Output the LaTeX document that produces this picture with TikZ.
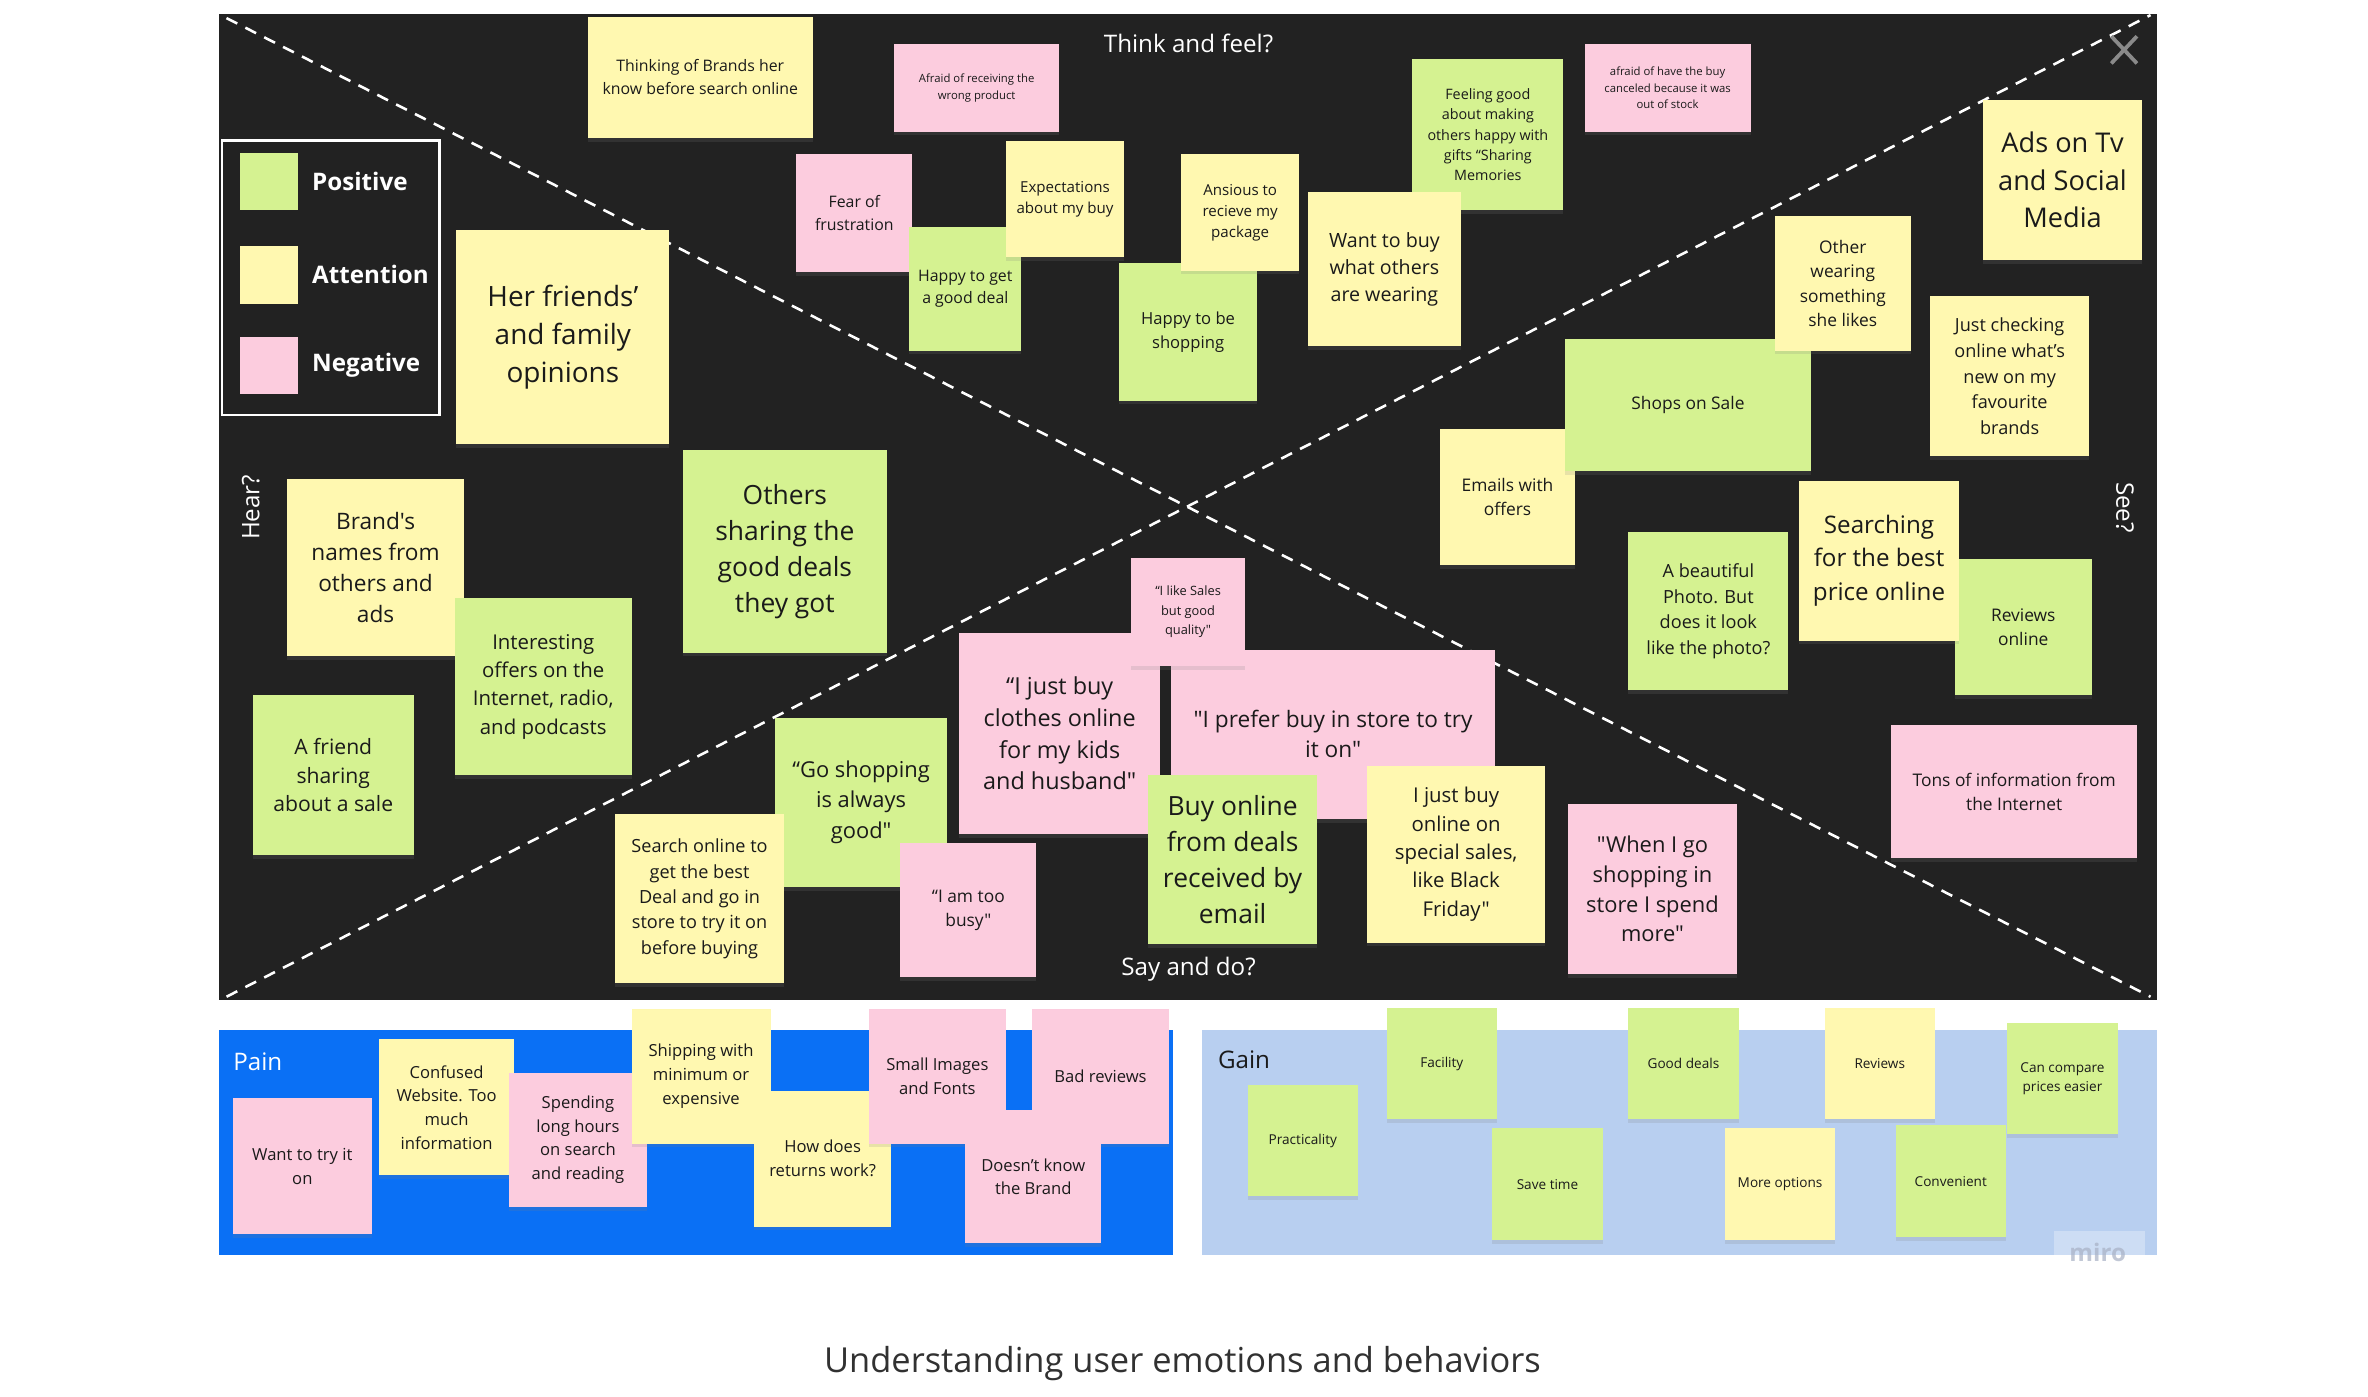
\documentclass[tikz,border=0pt]{standalone}
\usepackage{fontspec}
\defaultfontfeatures[\rmfamily,\sffamily]{}
\setmainfont{Open Sans}
\usepackage{tikz}
\usetikzlibrary{positioning,shadows}
\definecolor{board}{HTML}{222222}
\definecolor{stkgreen}{HTML}{D5F291}
\definecolor{stkyellow}{HTML}{FFF8B0}
\definecolor{stkpink}{HTML}{FCCCDE}
\definecolor{painblue}{HTML}{0A70F5}
\definecolor{gainblue}{HTML}{B8CFF0}
\definecolor{ink}{HTML}{1A1A1A}
\definecolor{xgray}{HTML}{8A8A8A}
\definecolor{mirogray}{HTML}{A7B0C4}
\newcommand{\fs}[2]{\fontsize{#1}{#2}\selectfont}
\tikzset{
  sticky/.style = {rectangle, fill=#1, anchor=north west, inner sep=1pt, align=center, text=ink,
                   drop shadow={shadow xshift=0pt, shadow yshift=-2.5pt, opacity=0.18}},
  sz/.style 2 args = {minimum width=#1, minimum height=#2},
  lbl/.style     = {text=white, font=\fs{16}{20}},
  legtxt/.style  = {text=white, anchor=west, font=\bfseries\fs{16}{20}},
  diag/.style    = {draw=white, line width=1.7pt, dash pattern=on 8pt off 6pt},
}

\begin{document}
\begin{tikzpicture}[x=1pt, y=-1pt]
  \fill[white] (0,0) rectangle (1568,925);
  \useasboundingbox (0,0) rectangle (1568,925);

  %% ---------------- the board: quadrants ----------------------------------------------------
  \fill[board] (145,9) rectangle (1428,662);
  \coordinate (dtl) at (150,12);  \coordinate (dbr) at (1424,660);
  \coordinate (dbl) at (150,660); \coordinate (dtr) at (1424,10);
  \draw[diag] (dtl) -- (dbr);
  \draw[diag] (dbl) -- (dtr);
  \draw[xgray, line width=2.5pt] (1398,24) -- (1415,42) (1415,24) -- (1398,42);

  \node[lbl] (think) at (787,29) {Think and feel?};
  \node[lbl] (say) at (787,642) {Say and do?};
  \node[lbl, rotate=90] (hear) at (166,336) {Hear?};
  \node[lbl, rotate=-90] (see) at (1407,336) {See?};

  %% legend
  \draw[white, line width=1.5pt] (147,93) rectangle (291,275);
  \foreach \n/\c/\t/\y in {pos/stkgreen/Positive/120, att/stkyellow/Attention/182, neg/stkpink/Negative/242} {
    \node[rectangle, fill=\c, sz={38pt}{38pt}, inner sep=0pt] (sq-\n) at (178,\y) {};
    \node[legtxt, right=6pt of sq-\n] (leg-\n) {\t};
  }

  %% ---------------- think and feel -----------------------------------------------------------
  \node[sticky=stkyellow, sz={149pt}{80pt}, font=\fs{10.5}{15}] (brandsknow) at (389,11)
    {Thinking of Brands her\\know before search online};
  \node[sticky=stkpink, sz={109pt}{58pt}, font=\fs{7.5}{11}] (wrongprod) at (592,29)
    {Afraid of receiving the\\wrong product};
  \node[sticky=stkpink, sz={77pt}{78pt}, font=\fs{10.5}{15}] (fear) at (527,102) {Fear of\\frustration};
  \node[sticky=stkgreen, sz={74pt}{82pt}, font=\fs{10.5}{15}] (happydeal) at (602,150) {Happy to get\\a good deal};
  \node[sticky=stkyellow, sz={78pt}{77pt}, font=\fs{10}{14}] (expect) at (666,93) {Expectations\\about my buy};
  \node[sticky=stkgreen, sz={91pt}{91pt}, font=\fs{11}{16}] (happyshop) at (741,174) {Happy to be\\shopping};
  \node[sticky=stkyellow, sz={78pt}{77pt}, font=\fs{10}{14}] (package) at (782,102) {Ansious to\\recieve my\\package};
  \node[sticky=stkgreen, sz={100pt}{100pt}, font=\fs{9.5}{13.5}] (feelgood) at (935,39)
    {Feeling good\\about making\\others happy with\\gifts “Sharing\\Memories};
  \node[sticky=stkyellow, sz={101pt}{102pt}, font=\fs{13}{18}] (wantbuy) at (866,127)
    {Want to buy\\what others\\are wearing};
  \node[sticky=stkpink, sz={110pt}{58pt}, font=\fs{7.5}{11}] (canceled) at (1049,29)
    {afraid of have the buy\\canceled because it was\\out of stock};

  %% ---------------- see ----------------------------------------------------------------------
  \node[sticky=stkyellow, sz={105pt}{106pt}, font=\fs{18}{25}] (adstv) at (1313,66) {Ads on Tv\\and Social\\Media};
  \node[sticky=stkyellow, sz={90pt}{90pt}, font=\fs{11.5}{16}] (emails) at (953,284) {Emails with\\offers};
  \node[sticky=stkgreen, sz={163pt}{88pt}, font=\fs{11.5}{16}] (shopsale) at (1036,224) {Shops on Sale};
  \node[sticky=stkyellow, sz={90pt}{89pt}, font=\fs{11.5}{16}] (otherwear) at (1175,143)
    {Other\\wearing\\something\\she likes};
  \node[sticky=stkyellow, sz={105pt}{106pt}, font=\fs{12}{17}] (checking) at (1278,196)
    {Just checking\\online what’s\\new on my\\favourite\\brands};
  \node[sticky=stkgreen, sz={106pt}{105pt}, font=\fs{12}{17}] (photo) at (1078,352)
    {A beautiful\\Photo. But\\does it look\\like the photo?};
  \node[sticky=stkgreen, sz={91pt}{90pt}, font=\fs{11.5}{16}] (revonline) at (1294,370) {Reviews\\online};
  \node[sticky=stkyellow, sz={106pt}{106pt}, font=\fs{16}{22}] (bestprice) at (1191,318)
    {Searching\\for the best\\price online};
  \node[sticky=stkpink, sz={163pt}{88pt}, font=\fs{11.5}{16}] (tons) at (1252,480)
    {Tons of information from\\the Internet};

  %% ---------------- hear ---------------------------------------------------------------------
  \node[sticky=stkyellow, sz={141pt}{142pt}, font=\fs{18.5}{25}] (friends) at (302,152)
    {Her friends’\\and family\\opinions};
  \node[sticky=stkyellow, sz={117pt}{117pt}, font=\fs{15}{20.5}] (brandnames) at (190,317)
    {Brand's\\names from\\others and\\ads};
  \node[sticky=stkgreen, sz={117pt}{117pt}, font=\fs{13.5}{18.7}] (offers) at (301,396)
    {Interesting\\offers on the\\Internet, radio,\\and podcasts};
  \node[sticky=stkgreen, sz={107pt}{106pt}, font=\fs{14}{19}] (friendsale) at (167,460)
    {A friend\\sharing\\about a sale};
  \node[sticky=stkgreen, sz={135pt}{134pt}, font=\fs{17.5}{23.7}] (sharing) at (452,298)
    {Others\\sharing the\\good deals\\they got};

  %% ---------------- say and do ---------------------------------------------------------------
  \node[sticky=stkpink, sz={133pt}{133pt}, font=\fs{15.5}{21}] (kids) at (635,419)
    {“I just buy\\clothes online\\for my kids\\and husband"};
  \node[sticky=stkpink, sz={215pt}{112pt}, font=\fs{15}{20}] (prefer) at (775,430)
    {"I prefer buy in store to try\\it on"};
  \node[sticky=stkpink, sz={75pt}{72pt}, font=\fs{8.5}{13}] (quality) at (749,369)
    {“I like Sales\\but good\\quality"};
  \node[sticky=stkgreen, sz={112pt}{112pt}, font=\fs{17.5}{23.7}] (email) at (760,513)
    {Buy online\\from deals\\received by\\email};
  \node[sticky=stkyellow, sz={118pt}{117pt}, font=\fs{13.5}{18.75}] (blackfri) at (905,507)
    {I just buy\\online on\\special sales,\\like Black\\Friday"};
  \node[sticky=stkgreen, sz={114pt}{112pt}, font=\fs{14.5}{20}] (goshop) at (513,475)
    {“Go shopping\\is always\\good"};
  \node[sticky=stkyellow, sz={112pt}{112pt}, font=\fs{12}{16.75}] (tryon) at (407,539)
    {Search online to\\get the best\\Deal and go in\\store to try it on\\before buying};
  \node[sticky=stkpink, sz={90pt}{89pt}, font=\fs{11.5}{16}] (busy) at (596,558) {“I am too\\busy"};
  \node[sticky=stkpink, sz={112pt}{113pt}, font=\fs{14.5}{19.7}] (spend) at (1038,532)
    {"When I go\\shopping in\\store I spend\\more"};

  %% ---------------- pain ---------------------------------------------------------------------
  \fill[painblue] (145,682) rectangle (777,831);
  \node[text=white, anchor=west, font=\fs{16}{20}] (pain) at (151,703) {Pain};
  \begin{scope}[every node/.style={font=\fs{11}{15.7}}]
    \node[sticky=stkpink, sz={92pt}{90pt}] (trythem) at (154,727) {Want to try it\\on};
    \node[sticky=stkyellow, sz={89pt}{90pt}] (confused) at (251,688) {Confused\\Website. Too\\much\\information};
    \node[sticky=stkpink, sz={91pt}{89pt}] (hours) at (337,710) {Spending\\long hours\\on search\\and reading};
    \node[sticky=stkyellow, sz={92pt}{89pt}] (shipping) at (418,668) {Shipping with\\minimum or\\expensive};
    \node[sticky=stkyellow, sz={91pt}{90pt}] (returns) at (499,722) {How does\\returns work?};
    \node[sticky=stkpink, sz={91pt}{89pt}] (smallimg) at (575,668) {Small Images\\and Fonts};
    \node[sticky=stkpink, sz={91pt}{89pt}] (badrev) at (683,668) {Bad reviews};
    \node[sticky=stkpink, sz={90pt}{88pt}] (unknown) at (639,735) {Doesn’t know\\the Brand};
  \end{scope}

  %% ---------------- gain ---------------------------------------------------------------------
  \fill[gainblue] (796,682) rectangle (1428,831);
  \node[text=ink, anchor=west, font=\fs{16}{20}] (gain) at (803,702) {Gain};
  \foreach \n/\c/\x/\y/\t in {practical/stkgreen/826/718/Practicality, facility/stkgreen/918/667/Facility,
      savetime/stkgreen/988/747/Save time, gooddeals/stkgreen/1078/667/Good deals,
      moreopt/stkyellow/1142/747/More options, reviews/stkyellow/1208/667/Reviews,
      convenient/stkgreen/1255/745/Convenient, compare/stkgreen/1329/677/{Can compare\\prices easier}} {
    \node[sticky=\c, sz={73pt}{74pt}, font=\fs{9}{13}] (\n) at (\x,\y) {\t};
  }
  \fill[white, opacity=0.3] (1360,815) rectangle (1420,838);
  \node[text=mirogray, opacity=0.7, font=\bfseries\fs{16}{18}] (miro) at (1389,829) {miro};

  %% caption
  \node[text=ink!90, font=\fs{22.8}{27}] (caption) at (783,903) {Understanding user emotions and behaviors};
\end{tikzpicture}
\end{document}
